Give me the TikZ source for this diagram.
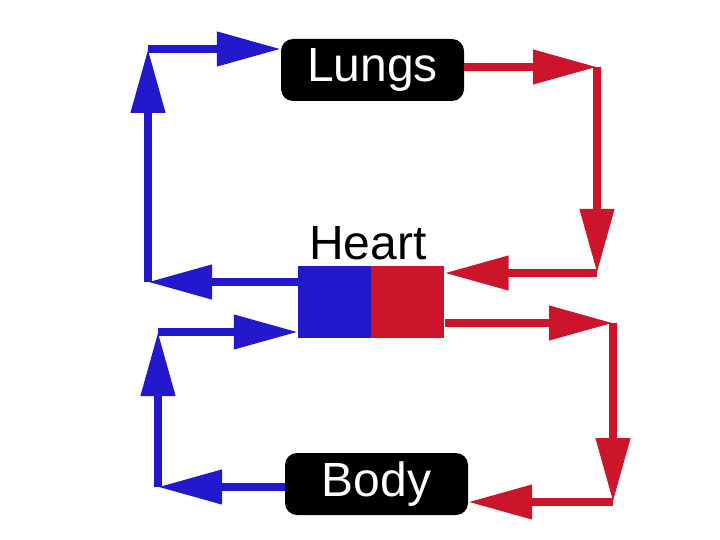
\documentclass[tikz,border=0pt]{standalone}
\usepackage{fontspec}
\setmainfont{Liberation Sans}
\usetikzlibrary{positioning,arrows.meta}
\definecolor{heartblue}{RGB}{34,24,204}
\definecolor{heartred}{RGB}{204,20,42}

\begin{document}
\begin{tikzpicture}[x=1pt,y=-1pt,
    organ/.style={fill=black,rounded corners=12pt,minimum width=183pt,minimum height=62pt,inner sep=0pt,text=white,font=\fontsize{48}{52}\selectfont},
    chamber/.style={minimum width=73pt,minimum height=72pt,inner sep=0pt},
    flow/.style={line width=7.5pt,-{Triangle[length=64pt,width=33pt]}},
    blueflow/.style={flow,heartblue},
    redflow/.style={flow,heartred},
]
\useasboundingbox (0,0) rectangle (720,540);

\node[organ] (lungs) at (372.5,70) {Lungs};
\node[organ] (body)  at (376.5,484) {Body};
\node[chamber,fill=heartblue] (hblue) at (334.5,302) {};
\node[chamber,fill=heartred,right=0pt of hblue] (hred) {};
\node[anchor=base,inner sep=0pt,font=\fontsize{48}{52}\selectfont] (heartlbl) at (368,259) {Heart};

% corners of the loops
\coordinate (ul) at (148,282);
\coordinate (ut) at (148,49);
\coordinate (rt) at (597,67);
\coordinate (rb) at (597,273);
\coordinate (lt) at (613,323);
\coordinate (lb) at (613,502);
\coordinate (bl) at (158,487);
\coordinate (bt) at (158,332);

% lung loop
\draw[blueflow] (hblue.west |- ul) -- (ul);
\draw[blueflow] (ul) -- (ut);
\draw[blueflow] (ut) -- (lungs.west |- ut);
\draw[redflow] (lungs.east |- rt) -- (rt);
\draw[redflow] (rt) -- (rb);
\draw[redflow] (rb) -- (hred.east |- rb);

% body loop
\draw[redflow] (hred.east |- lt) -- (lt);
\draw[redflow] (lt) -- (lb);
\draw[redflow] (lb) -- (body.east |- lb);
\draw[blueflow] (body.west |- bl) -- (bl);
\draw[blueflow] (bl) -- (bt);
\draw[blueflow] (bt) -- (hblue.west |- bt);
\end{tikzpicture}
\end{document}
